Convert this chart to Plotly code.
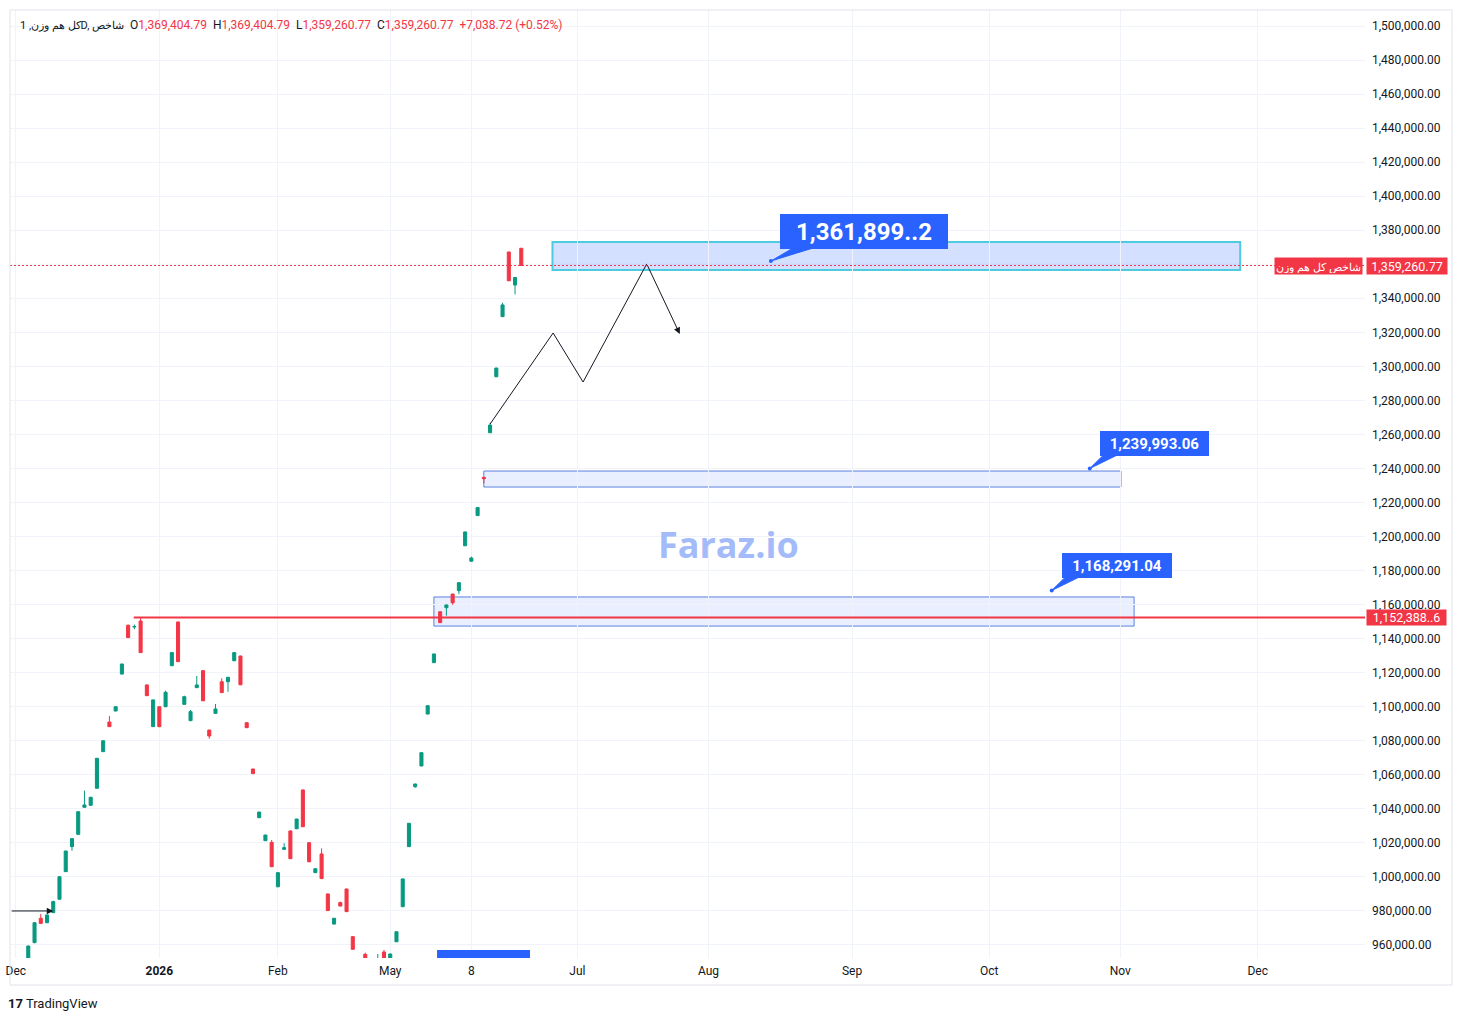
import plotly.graph_objects as go

# ---------------- data ----------------
bar_index = list(range(80))
opens = [949000, 961400, 975700, 973100, 979000, 986900, 1003100, 1017800, 1025000, 1040900,
         1042100, 1052100, 1073600, 1091000, 1097500, 1119200, 1147900, 1146900, 1150400, 1112800,
         1088300, 1100000, 1100000, 1124100, 1149800, 1101400, 1091800, 1111200, 1121200, 1086300,
         1096100, 1114700, 1114700, 1127000, 1129800, 1090600, 1063400, 1034800, 1021300, 1020300,
         994200, 1016200, 1027000, 1028300, 1051100, 1020100, 1002500, 1013500, 990000, 972300,
         984900, 992900, 964900, 950000, 954500, 944000, 946000, 955900, 948000, 961900,
         982500, 1017800, 1053000, 1065200, 1095700, 1125900, 1155800, 1158200, 1166200, 1168200,
         1194600, 1185500, 1212300, 1234800, 1261000, 1293900, 1329200, 1367200, 1347800, 1369404.79]
highs = [959600, 973300, 978200, 977900, 986000, 1000300, 1015400, 1022700, 1038500, 1050700,
         1047000, 1069900, 1080200, 1094600, 1100200, 1125300, 1148300, 1148300, 1152388.6, 1113000,
         1104200, 1100200, 1109400, 1132000, 1150000, 1106500, 1098100, 1118100, 1121600, 1086500,
         1101600, 1116700, 1117500, 1132000, 1130000, 1090800, 1063600, 1038300, 1024800, 1021700,
         1002700, 1019800, 1027200, 1034200, 1051300, 1020300, 1005000, 1016800, 990200, 975900,
         985500, 993100, 965100, 951500, 955500, 951000, 954700, 957100, 955000, 968000,
         999000, 1031700, 1054800, 1073200, 1100800, 1131200, 1156000, 1160000, 1166400, 1173100,
         1202900, 1188200, 1217200, 1235000, 1266900, 1299200, 1337400, 1367400, 1352400, 1369404.79]
lows = [947000, 961000, 972500, 972800, 978800, 986700, 1002900, 1015400, 1024800, 1040700,
        1041900, 1051900, 1073400, 1088100, 1097300, 1119000, 1140400, 1145500, 1131600, 1106300,
        1088100, 1088000, 1099800, 1123900, 1126300, 1101200, 1091600, 1111000, 1103300, 1081200,
        1095900, 1108100, 1108800, 1126800, 1112700, 1087500, 1060500, 1034600, 1021100, 1005800,
        994000, 1016000, 1010500, 1028100, 1029300, 1008700, 1002300, 998800, 980000, 972100,
        982600, 979400, 957300, 943000, 946000, 942000, 944000, 947000, 946000, 961700,
        982300, 1017600, 1052400, 1065000, 1095500, 1125700, 1149200, 1153500, 1159900, 1166100,
        1194400, 1185300, 1212100, 1231300, 1260800, 1293700, 1329000, 1350100, 1342300, 1359260.77]
closes = [959400, 973100, 972700, 977600, 985500, 1000100, 1015200, 1022500, 1038300, 1042300,
          1046800, 1069700, 1080000, 1088300, 1100000, 1125100, 1140600, 1147100, 1131800, 1106500,
          1104000, 1088300, 1108500, 1131800, 1126500, 1105900, 1097100, 1112800, 1103500, 1082800,
          1098700, 1108300, 1117300, 1131800, 1112900, 1087700, 1060700, 1038100, 1024600, 1006000,
          1002500, 1017200, 1010700, 1034000, 1029500, 1008900, 1004800, 999000, 980200, 975700,
          982900, 979600, 957500, 945000, 948000, 949000, 950500, 949000, 954700, 967800,
          998800, 1031500, 1054600, 1073000, 1100600, 1131000, 1149400, 1159800, 1161100, 1172900,
          1202700, 1187400, 1217000, 1234000, 1265500, 1299000, 1336100, 1350300, 1352222.05, 1359260.77]

time_tick_pos = [-2, 21, 40, 58, 71, 88, 109, 132, 154, 175, 197]
time_tick_text = ["Dec", "<b>2026</b>", "Feb", "May", "8", "Jul", "Aug", "Sep", "Oct", "Nov", "Dec"]
price_ticks = [p for p in range(960000, 1500001, 20000) if p != 1360000]
hidden_grid_price = 1360000

last_price = 1359260.77
level_price = 1152388.6
symbol_name = "شاخص کل هم وزن"

# zones: (x0, x1, y0, y1)
zone_top = (84, 194.2, 1356630, 1373080)
zone_mid = (73, 175.1, 1229100, 1238500)
zone_low = (65, 177.2, 1147400, 1164500)

# callouts: text, tip (x, price), box centre (x, price), base x range, base price, font, w, h
callouts = [
    ("1,361,899..2", (119.0, 1361899.2), (133.9, 1379500), (122.6, 125.8), 1369600, 24, 164, 31),
    ("1,239,993.06", (170.1, 1239993.06), (180.5, 1254700), (172.3, 174.5), 1247900, 15, 105, 21),
    ("1,168,291.04", (164.0, 1168291.04), (174.5, 1183000), (166.2, 168.4), 1176200, 15, 106, 21),
]

# projected path
path_x = [74.0, 84.1, 88.9, 99.1]
path_y = [1266100, 1319600, 1290800, 1360200]
path_end = (104.4, 1319000)

GREEN = "#089981"
RED = "#f23645"
BLUE = "#2962ff"
TXT = "#131722"
GRID = "#f0f3fa"

X_RANGE = [-2.93, 214.2]
Y_RANGE = [952357, 1509400]

fig = go.Figure()

fig.add_trace(go.Candlestick(
    x=bar_index, open=opens, high=highs, low=lows, close=closes,
    increasing=dict(line=dict(color=GREEN, width=1), fillcolor=GREEN),
    decreasing=dict(line=dict(color=RED, width=1), fillcolor=RED),
    whiskerwidth=0, showlegend=False, hoverinfo="skip",
))

fig.add_trace(go.Scatter(x=path_x, y=path_y, mode="lines",
                         line=dict(color=TXT, width=1), showlegend=False, hoverinfo="skip"))

shapes = []
shapes.append(dict(type="line", xref="paper", yref="y", x0=0, x1=1,
                   y0=hidden_grid_price, y1=hidden_grid_price, line=dict(color=GRID, width=1),
                   layer="below"))
# price lines
shapes.append(dict(type="line", xref="x", yref="y", x0=X_RANGE[0], x1=X_RANGE[1],
                   y0=last_price, y1=last_price, line=dict(color=RED, width=1, dash="2px,2px")))
shapes.append(dict(type="line", xref="x", yref="y", x0=16.9, x1=X_RANGE[1],
                   y0=level_price, y1=level_price, line=dict(color=RED, width=2)))
# zones
shapes.append(dict(type="rect", xref="x", yref="y", x0=zone_top[0], x1=zone_top[1],
                   y0=zone_top[2], y1=zone_top[3], fillcolor="rgba(41,98,255,0.2)",
                   line=dict(color="#4fcbe0", width=2), layer="below"))
for z in (zone_mid, zone_low):
    shapes.append(dict(type="rect", xref="x", yref="y", x0=z[0], x1=z[1], y0=z[2], y1=z[3],
                       fillcolor="rgba(41,98,255,0.1)", line=dict(color="#5b80e0", width=1),
                       layer="below"))
# partially visible label at bottom
shapes.append(dict(type="rect", xref="x", yref="y", x0=65.5, x1=80.4, y0=930000, y1=957000,
                   fillcolor=BLUE, line=dict(color=BLUE, width=0)))

annotations = []
for text, tip, ctr, bx, by, fs, w, h in callouts:
    shapes.append(dict(type="path", xref="x", yref="y",
                       path=f"M {bx[0]},{by} L {bx[1]},{by} L {tip[0]},{tip[1]} Z",
                       fillcolor=BLUE, line=dict(color=BLUE, width=1)))
    shapes.append(dict(type="circle", xref="x", yref="y", xsizemode="pixel", ysizemode="pixel",
                       xanchor=tip[0], yanchor=tip[1], x0=-2, x1=2, y0=-2, y1=2,
                       fillcolor=BLUE, line=dict(color=BLUE, width=0)))
    annotations.append(dict(x=ctr[0], y=ctr[1], xref="x", yref="y", text=f"<b>{text}</b>",
                            showarrow=False, font=dict(color="white", size=fs, family="Roboto"),
                            bgcolor=BLUE, bordercolor=BLUE, borderwidth=1, borderpad=1,
                            width=w, height=h, align="center"))

# arrow end of projected path
annotations.append(dict(x=path_end[0], y=path_end[1], ax=path_x[-1], ay=path_y[-1],
                        xref="x", yref="y", axref="x", ayref="y", text="", showarrow=True,
                        arrowhead=2, arrowsize=1.3, arrowwidth=1, arrowcolor=TXT))
# left arrow
annotations.append(dict(x=4.0, y=980000, ax=-2.9, ay=980000, xref="x", yref="y", axref="x",
                        ayref="y", text="", showarrow=True, arrowhead=2, arrowsize=1.3,
                        arrowwidth=1, arrowcolor=TXT))

# price axis labels
annotations.append(dict(x=1.0008, y=last_price, xref="paper", yref="y", xanchor="left",
                        text="1,359,260.77", showarrow=False, bgcolor=RED, borderpad=1,
                        width=78, height=14,
                        font=dict(color="white", size=12.5, family="Roboto")))
annotations.append(dict(x=0.9983, y=last_price, xref="paper", yref="y", xanchor="right",
                        text=symbol_name, showarrow=False, bgcolor=RED, borderpad=1,
                        height=14,
                        font=dict(color="white", size=11, family="Noto Sans")))
annotations.append(dict(x=1.0008, y=level_price, xref="paper", yref="y", xanchor="left",
                        text="1,152,388..6", showarrow=False, bgcolor=RED, borderpad=1,
                        width=77, height=13,
                        font=dict(color="white", size=12.5, family="Roboto")))

# watermark
annotations.append(dict(x=0.53, y=0.4367, xref="paper", yref="paper", text="<b>Faraz.io</b>",
                        showarrow=False, font=dict(color="#a3bbf8", size=36, family="Open Sans")))

# header legend
hdr = ("<span style='font-size:11px'>کل هم وزن, 1D, شاخص</span>&nbsp;&nbsp;"
       "O<span style='color:#f23645'>1,369,404.79</span>&nbsp;&nbsp;"
       "H<span style='color:#f23645'>1,369,404.79</span>&nbsp;&nbsp;"
       "L<span style='color:#f23645'>1,359,260.77</span>&nbsp;&nbsp;"
       "C<span style='color:#f23645'>1,359,260.77</span>&nbsp;&nbsp;"
       "<span style='color:#f23645'>+7,038.72 (+0.52%)</span>")
annotations.append(dict(x=0.0059, y=0.984, xref="paper", yref="paper", xanchor="left",
                        yanchor="middle", text=hdr, showarrow=False,
                        font=dict(size=12, family="Roboto", color=TXT)))

# footer logo
annotations.append(dict(x=-0.003, y=-0.0475, xref="paper", yref="paper", xanchor="left",
                        yanchor="middle", text="<b>17</b> TradingView", showarrow=False,
                        font=dict(size=13, family="Roboto", color=TXT)))

# outer frame
shapes.append(dict(type="rect", xref="paper", yref="paper", x0=0, x1=1.0642, y0=-0.0285, y1=1,
                   line=dict(color="#e0e3eb", width=1), fillcolor="rgba(0,0,0,0)"))

fig.update_layout(
    width=1462, height=1021,
    margin=dict(l=10, r=97, t=10, b=63, autoexpand=False),
    paper_bgcolor="white", plot_bgcolor="white",
    shapes=shapes, annotations=annotations,
    hovermode=False, showlegend=False,
    font=dict(family="Roboto", size=12, color=TXT),
    xaxis=dict(range=X_RANGE, tickvals=time_tick_pos, ticktext=time_tick_text,
               showgrid=True, gridcolor=GRID, zeroline=False, showline=False, ticks="",
               rangeslider=dict(visible=False), tickfont=dict(size=12, color=TXT),
               ticklabelstandoff=4, automargin=False),
    yaxis=dict(range=Y_RANGE, side="right", tickvals=price_ticks, tickformat=",.2f",
               showgrid=True, gridcolor=GRID, zeroline=False, showline=False, ticks="",
               tickfont=dict(size=12, color=TXT), ticklabelstandoff=6, automargin=False),
)

fig.write_html("out.html")
